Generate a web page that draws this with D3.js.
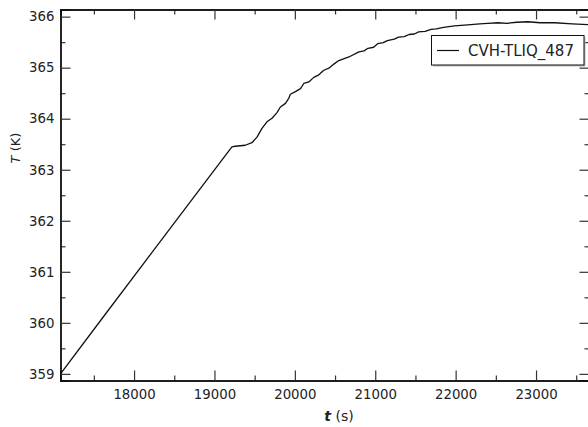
<!DOCTYPE html>
<html>
<head>
<meta charset="utf-8">
<script src="https://cdn.jsdelivr.net/npm/d3@7"></script>
<style>
  body { margin: 0; background: #fff; }
  svg { display: block; font-family: "DejaVu Sans", Verdana, sans-serif; }
</style>
</head>
<body>
<script>
// time (s) and liquid temperature (K)
const timeValues = [
    17085, 17600, 18200, 18800, 19217, 19259, 19384, 19466, 19529, 19591,
    19653, 19716, 19778, 19820, 19883, 19924, 19945, 20007, 20070, 20111,
    20173, 20236, 20298, 20360, 20423, 20485, 20547, 20672, 20797, 20860,
    20910, 20980, 21030, 21100, 21150, 21237, 21290, 21360, 21420, 21486,
    21540, 21620, 21695, 21760, 21850, 21985, 22150, 22300, 22400, 22526,
    22640, 22760, 22900, 23050, 23232, 23450, 23665
];
const tempValues = [
    359.00, 360.08, 361.33, 362.58, 363.45, 363.46, 363.48, 363.53, 363.64, 363.81,
    363.94, 364.01, 364.12, 364.23, 364.30, 364.40, 364.48, 364.53, 364.59, 364.69,
    364.72, 364.81, 364.86, 364.95, 364.99, 365.07, 365.14, 365.21, 365.31, 365.33,
    365.38, 365.40, 365.47, 365.49, 365.53, 365.56, 365.60, 365.61, 365.65, 365.66,
    365.70, 365.71, 365.75, 365.76, 365.79, 365.82, 365.84, 365.86, 365.87, 365.88,
    365.87, 365.89, 365.90, 365.88, 365.88, 365.86, 365.84
];
const seriesName = 'CVH-TLIQ_487';
const xMajorTicks = [18000, 19000, 20000, 21000, 22000, 23000];
const xMinorTicks = [17500, 18500, 19500, 20500, 21500, 22500, 23500];
const yMajorTicks = [359, 360, 361, 362, 363, 364, 365, 366];
const yMinorTicks = [359.5, 360.5, 361.5, 362.5, 363.5, 364.5, 365.5];

const width = 588;
const height = 427;
const plotLeft = 60.5, plotRight = 589.5, plotTop = 9.5, plotBottom = 380.5;

const data = timeValues.map((t, i) => ({t: t, T: tempValues[i]}));

const x = d3.scaleLinear().domain([17085, 23665]).range([plotLeft, plotRight]);
const y = d3.scaleLinear().domain([358.87, 366.14]).range([plotBottom, plotTop]);

const svg = d3.select('body').append('svg')
    .attr('width', width)
    .attr('height', height);

// axes with inward ticks, on all four sides
function drawAxis(axisFn, scale, ticks, size, tx, ty, labels) {
    const g = svg.append('g')
        .attr('transform', `translate(${tx},${ty})`)
        .call(axisFn(scale).tickValues(ticks).tickSize(size).tickPadding(6 - size)
            .tickFormat(labels ? d3.format('d') : ''))
        .attr('font-family', '"DejaVu Sans", Verdana, sans-serif')
        .attr('font-size', 13.3);
    g.select('.domain').attr('stroke', '#111').attr('stroke-width', 1.4);
    g.selectAll('.tick line').attr('stroke', '#333').attr('stroke-width', 1.2);
    g.selectAll('.tick text').attr('fill', '#222');
    return g;
}

drawAxis(d3.axisBottom, x, xMinorTicks, -5, 0, plotBottom, false);
const xb = drawAxis(d3.axisBottom, x, xMajorTicks, -10, 0, plotBottom, true);
xb.selectAll('.tick text').attr('y', 9);
drawAxis(d3.axisTop, x, xMinorTicks, -5, 0, plotTop, false);
drawAxis(d3.axisTop, x, xMajorTicks, -10, 0, plotTop, false);

drawAxis(d3.axisLeft, y, yMinorTicks, -5, plotLeft, 0, false);
const yl = drawAxis(d3.axisLeft, y, yMajorTicks, -10, plotLeft, 0, true);
yl.selectAll('.tick text').attr('x', -6);
drawAxis(d3.axisRight, y, yMinorTicks, -5, plotRight, 0, false);
drawAxis(d3.axisRight, y, yMajorTicks, -10, plotRight, 0, false);

// the curve
const line = d3.line()
    .x(d => x(d.t))
    .y(d => y(d.T));

svg.append('path')
    .datum(data)
    .attr('fill', 'none')
    .attr('stroke', '#111')
    .attr('stroke-width', 1.3)
    .attr('stroke-linejoin', 'round')
    .attr('d', line);

// axis labels
const xLabel = svg.append('text')
    .attr('x', 339)
    .attr('y', 421)
    .attr('text-anchor', 'middle')
    .attr('fill', '#222')
    .style('font-size', '14px');
xLabel.append('tspan').style('font-style', 'italic').style('font-weight', 'bold').text('t');
xLabel.append('tspan').text(' (s)');

const yLabel = svg.append('text')
    .attr('transform', 'translate(19.5,148) rotate(-90)')
    .attr('text-anchor', 'middle')
    .attr('fill', '#222')
    .style('font-size', '13px');
yLabel.append('tspan').style('font-style', 'italic').text('T');
yLabel.append('tspan').text(' (K)');

// legend
const legend = svg.append('g');
legend.append('rect')
    .attr('x', 433).attr('y', 37)
    .attr('width', 152.5).attr('height', 29.5)
    .attr('fill', '#bbb');
legend.append('rect')
    .attr('x', 431.5).attr('y', 35.5)
    .attr('width', 152.5).attr('height', 29.5)
    .attr('fill', '#fff')
    .attr('stroke', '#111')
    .attr('stroke-width', 1);
legend.append('line')
    .attr('x1', 437).attr('x2', 459)
    .attr('y1', 50.5).attr('y2', 50.5)
    .attr('stroke', '#111')
    .attr('stroke-width', 1.2);
legend.append('text')
    .attr('x', 468)
    .attr('y', 56)
    .attr('fill', '#222')
    .style('font-size', '15px')
    .text(seriesName);
</script>
</body>
</html>
